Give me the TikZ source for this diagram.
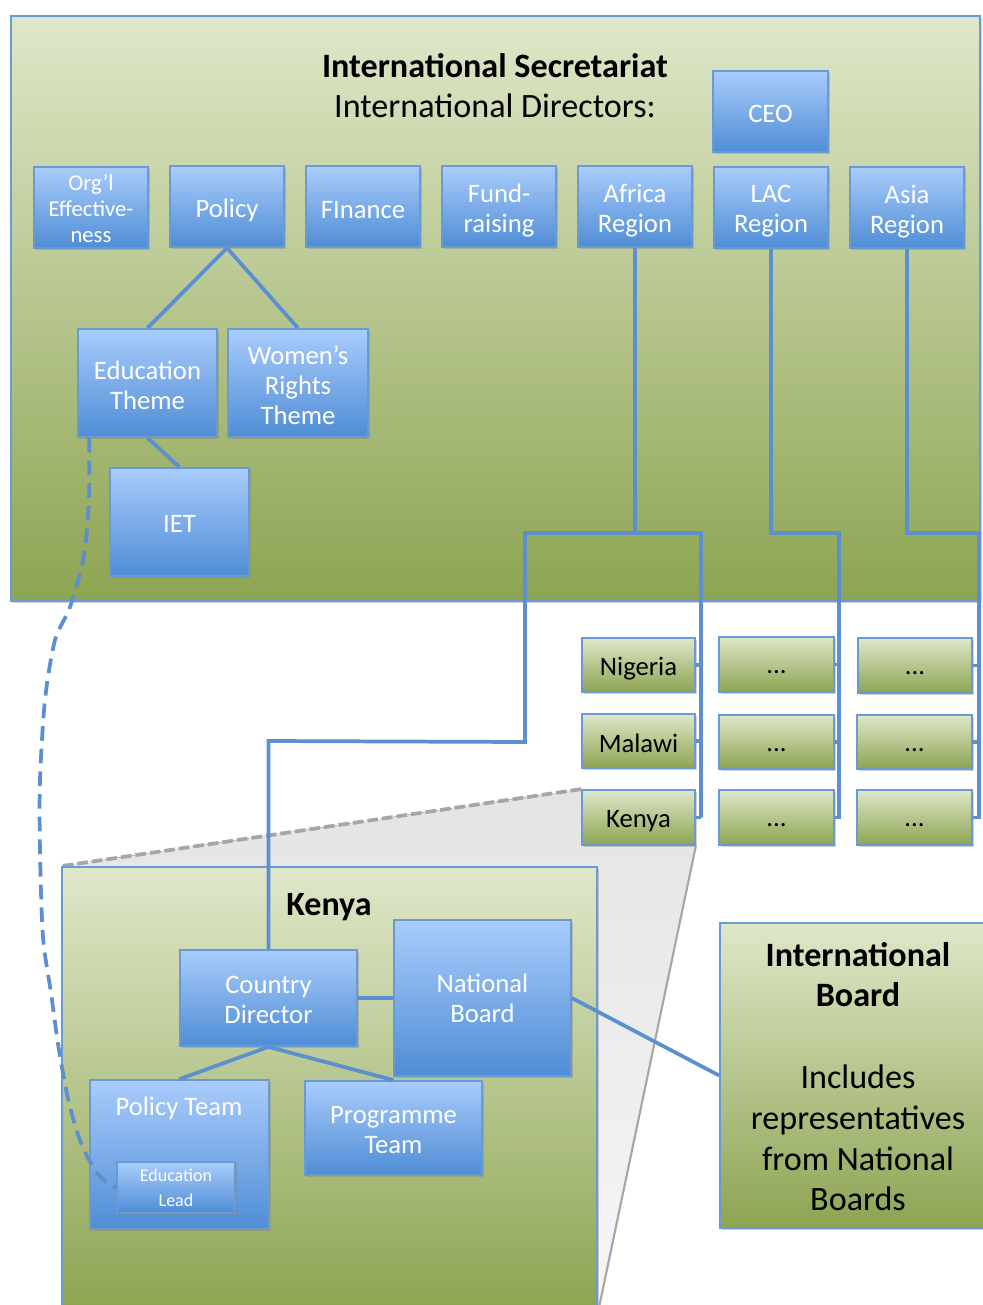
\documentclass[tikz,border=0pt]{standalone}
\usepackage{fontspec}
\setmainfont{Carlito}
\usetikzlibrary{shadows,calc}
\definecolor{lnblue}{HTML}{5B8FCF}
\definecolor{bdblue}{HTML}{6A9AD3}
\definecolor{btop}{HTML}{A9CCFC}
\definecolor{bbot}{HTML}{4F8DD5}
\definecolor{gtop}{HTML}{DFE7C9}
\definecolor{gbot}{HTML}{8DA452}
\definecolor{fgrey}{HTML}{E4E4E4}
\definecolor{fgreyb}{HTML}{F6F6F6}
\definecolor{lgrey}{HTML}{A6A6A6}
\pgfdeclarelayer{bg}
\pgfsetlayers{bg,main}
\tikzset{
 box/.style={rectangle, inner sep=0pt, draw=bdblue, line width=1.3pt},
 shad/.style={drop shadow={shadow xshift=1.5pt, shadow yshift=-1.8pt, opacity=0.35}},
 bluebox/.style={box, shad, top color=btop, bottom color=bbot},
 greenbox/.style={box, shad, top color=gtop, bottom color=gbot},
 boxtext/.style={align=center, inner sep=0pt, yshift=-1.5pt, font=\fontsize{20}{22.5}\selectfont},
 bluetext/.style={boxtext, text=white},
 greentext/.style={boxtext, text=black},
 dsc/.style={yshift=-1.5pt},
 dots/.style={greentext, yshift=-4.5pt},
 conn/.style={draw=lnblue, line width=2.8pt},
}
% box style, text style, name, x1, y1, x2, y2, text
\newcommand{\mkbox}[8]{%
 \pgfmathsetmacro\mkbw{(#6-#4)*0.75}%
 \pgfmathsetmacro\mkbh{(#7-#5)*0.75}%
 \node[#1, minimum width=\mkbw pt, minimum height=\mkbh pt] (#3) at ({(#4+#6)/2},{(#5+#7)/2}) {};
 \node[#2] (#3-t) at (#3.center) {#8};}
\begin{document}
\begin{tikzpicture}[x=0.75pt,y=-0.75pt]
\useasboundingbox (0,0) rectangle (982,1305);
% secretariat
\mkbox{greenbox}{greentext}{sec}{11}{16}{980}{601}{}
\node[align=center, font=\fontsize{25.6}{30}\selectfont] (sectitle) at (495,86) {\textbf{International Secretariat}\\International Directors:};
\mkbox{bluebox}{bluetext}{ceo}{713}{71}{828}{152}{CEO}
\mkbox{bluebox}{bluetext, yshift=1pt, font=\fontsize{17}{19.5}\selectfont}{org}{34}{167}{148}{248}{Org’l\\Effective-\\ness}
\mkbox{bluebox}{bluetext, dsc}{policy}{170}{166}{284}{247}{Policy}
\mkbox{bluebox}{bluetext, dsc}{finance}{306}{166}{420}{247}{FInance}
\mkbox{bluebox}{bluetext, dsc}{fund}{442}{166}{556}{247}{Fund-\\raising}
\mkbox{bluebox}{bluetext, dsc}{africa}{578}{166}{692}{247}{Africa\\Region}
\mkbox{bluebox}{bluetext, dsc}{lac}{714}{167}{828}{248}{LAC\\Region}
\mkbox{bluebox}{bluetext, dsc}{asia}{850}{167}{964}{248}{Asia\\Region}
\mkbox{bluebox}{bluetext}{edu}{78}{329}{217}{437}{Education\\Theme}
\mkbox{bluebox}{bluetext}{women}{228}{329}{368}{437}{Women’s\\Rights\\Theme}
\mkbox{bluebox}{bluetext}{iet}{110}{468}{249}{576}{IET}
% country boxes
\mkbox{greenbox}{greentext, dsc}{nigeria}{582}{638}{695}{692}{Nigeria}
\mkbox{greenbox}{greentext}{malawi}{582}{714}{695}{768}{Malawi}
\mkbox{greenbox}{greentext, dsc}{kenyac}{582}{790}{695}{845}{Kenya}
\mkbox{greenbox}{dots}{b21}{719}{637}{834}{692}{...}
\mkbox{greenbox}{dots}{b22}{719}{715}{834}{769}{...}
\mkbox{greenbox}{dots}{b23}{719}{790}{834}{845}{...}
\mkbox{greenbox}{dots}{b31}{858}{638}{972}{693}{...}
\mkbox{greenbox}{dots}{b32}{857}{715}{972}{769}{...}
\mkbox{greenbox}{dots}{b33}{857}{790}{972}{845}{...}
% kenya big
\mkbox{greenbox}{greentext}{kbig}{62}{867}{597}{1312}{}
\begin{pgfonlayer}{bg}
\fill[top color=fgrey, bottom color=fgreyb] (kenyac.north west) -- (kenyac.north east) -- (kenyac.south east) -- (kbig.south east) -- (kbig.south west) -- (kbig.north west) -- cycle;
\draw[lgrey, line width=2.8pt, dash pattern=on 8pt off 3pt] (kenyac.north west) -- (kbig.north west);
\draw[lgrey, line width=1.6pt] (kenyac.south east) -- (kbig.south east);
\end{pgfonlayer}
\node[font=\bfseries\fontsize{25.5}{28}\selectfont] (ktitle) at (329,907) {Kenya};
\mkbox{bluebox}{bluetext}{cd}{180}{950}{357}{1046}{Country\\Director}
\mkbox{bluebox}{bluetext, yshift=1pt}{nb}{394}{920}{571}{1076}{National\\Board}
\mkbox{bluebox}{bluetext}{pt}{90}{1080}{269}{1229}{}
\node[text=white, font=\fontsize{20}{22.5}\selectfont] (ptlabel) at (179,1108) {Policy Team};
\mkbox{bluebox}{bluetext, yshift=1.5pt, font=\fontsize{13.5}{18.5}\selectfont}{edlead}{117}{1162}{235}{1213}{Education\\Lead}
\mkbox{bluebox}{bluetext}{prog}{305}{1081}{482}{1175}{Programme\\Team}
% international board
\mkbox{greenbox}{greentext}{ib}{720}{923}{986}{1228}{}
\node[align=center, font=\bfseries\fontsize{25.6}{30}\selectfont] (ibtitle) at (858,975) {International\\Board};
\node[align=center, font=\fontsize{25.6}{30.5}\selectfont] (ibtext) at (858,1138) {Includes\\representatives\\from National\\Boards};
% connectors
\coordinate (yA) at (0,533);
\coordinate (ra) at (701,533);
\coordinate (rl) at (839,533);
\coordinate (rs) at (979,533);
\draw[conn] (policy.south) -- (edu.north);
\draw[conn] (policy.south) -- (women.north);
\draw[conn] (edu.south) -- (iet.north);
\draw[conn] (africa.south) -- (africa.south |- yA);
\draw[conn] (ra |- kenyac.east) -- (ra) -- (525,533) -- (525,742) -- (cd.north |- malawi.east) -- (cd.north);
\draw[conn] (nigeria.east) -- (ra |- nigeria.east);
\draw[conn] (malawi.east) -- (ra |- malawi.east);
\draw[conn] (kenyac.east) -- (ra |- kenyac.east);
\draw[conn] (lac.south) -- (lac.south |- yA) -- (rl) -- (rl |- b23.east) -- (b23.east);
\draw[conn] (b21.east) -- (rl |- b21.east);
\draw[conn] (b22.east) -- (rl |- b22.east);
\draw[conn] (asia.south) -- (asia.south |- yA) -- (rs) -- (rs |- b33.east) -- (b33.east);
\draw[conn] (b31.east) -- (rs |- b31.east);
\draw[conn] (b32.east) -- (rs |- b32.east);
\draw[conn] (cd.south) -- (pt.north);
\draw[conn] (cd.south) -- (prog.north);
\draw[conn] (cd.east) -- (nb.west);
\draw[conn] (nb.east) -- (ib.west);
\draw[conn, dash pattern=on 11pt off 6pt] plot[smooth] coordinates {($(edu.south west)+(12,0)$) (89,500) (84,555) (70,607) (55,640) (45,700) (40,780) (40,850) (43,937) (51,993) (59,1050) (69,1103) (81,1143) (95,1170) (107,1183) (edlead.west)};
\end{tikzpicture}
\end{document}
